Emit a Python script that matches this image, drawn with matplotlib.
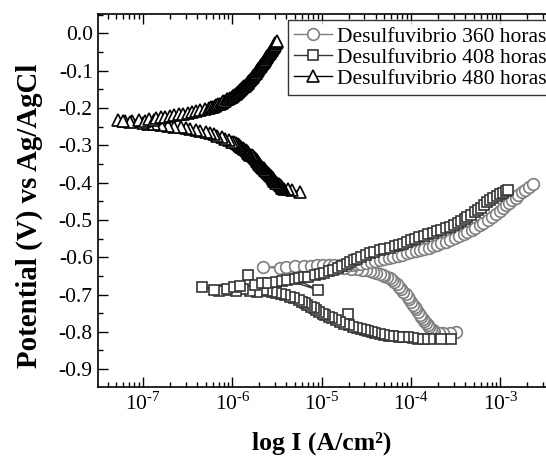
import numpy as np
import matplotlib
matplotlib.use("Agg")
import matplotlib.pyplot as plt
from matplotlib.ticker import MultipleLocator, LogLocator

plt.rcParams['font.family'] = ['Liberation Serif', 'DejaVu Serif']
plt.rcParams['mathtext.fontset'] = 'custom'
plt.rcParams['mathtext.rm'] = 'Liberation Serif'
plt.rcParams['axes.unicode_minus'] = False

# Desulfuvibrio 360 horas: potential (V) and log10 of current density (A/cm2)
e_360 = [-0.800, -0.802, -0.804, -0.803, -0.800, -0.796, -0.792, -0.787, -0.782, -0.776,
         -0.771, -0.765, -0.760, -0.754, -0.747, -0.740, -0.733, -0.727, -0.720, -0.713,
         -0.706, -0.699, -0.692, -0.685, -0.679, -0.673, -0.667, -0.662, -0.657, -0.653,
         -0.650, -0.647, -0.644, -0.641, -0.639, -0.637, -0.635, -0.633, -0.632, -0.631,
         -0.630, -0.629, -0.628, -0.627, -0.626, -0.628, -0.630, -0.631, -0.630, -0.630,
         -0.626,
         -0.625, -0.624, -0.623, -0.623, -0.622, -0.621, -0.621, -0.621, -0.621, -0.621,
         -0.620, -0.620, -0.618, -0.617, -0.615, -0.612, -0.610, -0.607, -0.605, -0.602,
         -0.599, -0.596, -0.593, -0.590, -0.587, -0.584, -0.581, -0.577, -0.574, -0.570,
         -0.566, -0.562, -0.558, -0.553, -0.548, -0.543, -0.538, -0.533, -0.527, -0.521,
         -0.514, -0.507, -0.500, -0.492, -0.484, -0.476, -0.468, -0.461, -0.454, -0.447,
         -0.440, -0.433, -0.426, -0.419, -0.411, -0.403]
logi_360 = [-3.50, -3.57, -3.64, -3.69, -3.74, -3.76, -3.78, -3.80, -3.81, -3.83,
            -3.85, -3.87, -3.89, -3.90, -3.92, -3.94, -3.96, -3.98, -4.00, -4.02,
            -4.04, -4.06, -4.09, -4.11, -4.13, -4.16, -4.19, -4.21, -4.24, -4.27,
            -4.30, -4.32, -4.35, -4.39, -4.43, -4.46, -4.50, -4.55, -4.60, -4.67,
            -4.75, -4.82, -4.90, -4.97, -5.05, -5.11, -5.17, -5.28, -5.38, -5.47,
            -5.66,
            -5.40, -5.30, -5.20, -5.12, -5.05, -4.99, -4.92, -4.86, -4.80, -4.74,
            -4.69, -4.65, -4.60, -4.56, -4.50, -4.45, -4.40, -4.35, -4.30, -4.25,
            -4.20, -4.15, -4.10, -4.05, -4.00, -3.95, -3.90, -3.85, -3.80, -3.76,
            -3.71, -3.66, -3.61, -3.56, -3.51, -3.46, -3.41, -3.37, -3.32, -3.28,
            -3.23, -3.19, -3.14, -3.10, -3.05, -3.01, -2.97, -2.94, -2.90, -2.87,
            -2.83, -2.80, -2.76, -2.72, -2.68, -2.64]

# Desulfuvibrio 408 horas
e_408 = [-0.820, -0.819, -0.820, -0.818, -0.818, -0.816, -0.815, -0.815, -0.813, -0.812,
         -0.810, -0.808, -0.806, -0.804, -0.801, -0.798, -0.795, -0.792, -0.789, -0.786,
         -0.751, -0.782, -0.778, -0.773, -0.769, -0.764, -0.760, -0.755, -0.751, -0.746,
         -0.742, -0.737, -0.733, -0.728, -0.724, -0.719, -0.715, -0.710, -0.706, -0.702,
         -0.698, -0.695, -0.692, -0.690, -0.688, -0.692, -0.690, -0.686, -0.690, -0.688,
         -0.690, -0.688, -0.679,
         -0.684, -0.680, -0.677, -0.648, -0.674, -0.670, -0.668, -0.666, -0.663, -0.661,
         -0.688, -0.658, -0.656, -0.654, -0.652, -0.649, -0.645, -0.642, -0.638, -0.633,
         -0.628, -0.623, -0.618, -0.613, -0.608, -0.604, -0.599, -0.595, -0.590, -0.586,
         -0.581, -0.578, -0.575, -0.571, -0.568, -0.564, -0.560, -0.555, -0.550, -0.546,
         -0.542, -0.538, -0.535, -0.531, -0.527, -0.523, -0.518, -0.513, -0.508, -0.502,
         -0.497, -0.492, -0.486, -0.480, -0.474, -0.467, -0.460, -0.453, -0.447, -0.441,
         -0.436, -0.431, -0.427, -0.423, -0.420]
logi_408 = [-3.55, -3.67, -3.79, -3.86, -3.92, -3.98, -4.03, -4.08, -4.14, -4.20,
            -4.25, -4.30, -4.35, -4.40, -4.44, -4.48, -4.52, -4.56, -4.61, -4.65,
            -4.71, -4.70, -4.75, -4.80, -4.84, -4.88, -4.92, -4.96, -4.99, -5.03,
            -5.06, -5.09, -5.12, -5.16, -5.19, -5.22, -5.25, -5.31, -5.36, -5.41,
            -5.46, -5.51, -5.56, -5.61, -5.66, -5.73, -5.80, -5.88, -5.96, -6.08,
            -6.15, -6.21, -6.34,
            -6.06, -5.98, -5.92, -5.82, -5.75, -5.67, -5.60, -5.51, -5.45, -5.39,
            -5.04, -5.30, -5.25, -5.20, -5.15, -5.08, -5.02, -4.97, -4.92, -4.87,
            -4.82, -4.77, -4.72, -4.68, -4.64, -4.60, -4.56, -4.51, -4.46, -4.41,
            -4.35, -4.30, -4.24, -4.18, -4.13, -4.09, -4.05, -4.00, -3.96, -3.91,
            -3.86, -3.81, -3.76, -3.71, -3.66, -3.61, -3.57, -3.52, -3.48, -3.44,
            -3.40, -3.37, -3.33, -3.29, -3.25, -3.22, -3.18, -3.15, -3.12, -3.08,
            -3.04, -3.00, -2.97, -2.94, -2.92]

# Desulfuvibrio 480 horas
e_480 = [-0.425, -0.420, -0.417, -0.416, -0.414, -0.412, -0.410, -0.407, -0.405, -0.402,
         -0.400, -0.397, -0.395, -0.392, -0.390, -0.387, -0.385, -0.382, -0.380, -0.377,
         -0.375, -0.372, -0.370, -0.367, -0.365, -0.362, -0.360, -0.357, -0.355, -0.352,
         -0.350, -0.347, -0.345, -0.342, -0.340, -0.337, -0.335, -0.332, -0.330, -0.327,
         -0.325, -0.322, -0.320, -0.317, -0.315, -0.312, -0.310, -0.307, -0.305, -0.302,
         -0.300, -0.297, -0.295, -0.292, -0.290, -0.286, -0.282, -0.278, -0.275, -0.271,
         -0.268, -0.265, -0.262, -0.259, -0.257, -0.254, -0.252, -0.250, -0.248, -0.246,
         -0.244, -0.242, -0.240,
         -0.236, -0.234, -0.232, -0.238, -0.235, -0.231, -0.236, -0.229, -0.233,
         -0.227, -0.225, -0.223, -0.221, -0.219, -0.217, -0.215, -0.213, -0.211, -0.209,
         -0.206, -0.203, -0.200, -0.198, -0.196, -0.194, -0.192, -0.190, -0.188, -0.186,
         -0.184, -0.182, -0.180, -0.177, -0.175, -0.172, -0.170, -0.167, -0.165, -0.162,
         -0.160, -0.157, -0.155, -0.152, -0.150, -0.147, -0.145, -0.142, -0.140, -0.137,
         -0.135, -0.132, -0.130, -0.127, -0.125, -0.122, -0.120, -0.117, -0.115, -0.112,
         -0.110, -0.107, -0.105, -0.102, -0.100, -0.097, -0.095, -0.092, -0.090, -0.087,
         -0.085, -0.082, -0.080, -0.077, -0.075, -0.072, -0.070, -0.067, -0.065, -0.062,
         -0.060, -0.057, -0.055, -0.052, -0.050, -0.047, -0.045, -0.042, -0.040, -0.037,
         -0.035, -0.032, -0.030, -0.027, -0.025, -0.022, -0.020]
logi_480 = [-5.24, -5.33, -5.38, -5.42, -5.44, -5.45, -5.46, -5.47, -5.48, -5.50,
            -5.51, -5.52, -5.53, -5.54, -5.55, -5.55, -5.56, -5.57, -5.58, -5.59,
            -5.60, -5.61, -5.62, -5.63, -5.64, -5.65, -5.66, -5.67, -5.68, -5.69,
            -5.70, -5.70, -5.71, -5.72, -5.73, -5.74, -5.75, -5.76, -5.77, -5.78,
            -5.80, -5.81, -5.82, -5.83, -5.84, -5.85, -5.87, -5.88, -5.90, -5.91,
            -5.93, -5.94, -5.96, -5.98, -6.00, -6.04, -6.08, -6.12, -6.17, -6.21,
            -6.25, -6.30, -6.36, -6.41, -6.47, -6.52, -6.58, -6.65, -6.72, -6.80,
            -6.88, -6.94, -7.00,
            -7.20, -7.12, -7.28, -7.15, -7.22, -7.05, -6.98, -6.93, -6.88,
            -6.85, -6.80, -6.75, -6.70, -6.65, -6.60, -6.55, -6.50, -6.45, -6.41,
            -6.36, -6.31, -6.26, -6.24, -6.22, -6.20, -6.18, -6.16, -6.14, -6.12,
            -6.11, -6.10, -6.08, -6.06, -6.05, -6.03, -6.01, -5.99, -5.98, -5.96,
            -5.95, -5.94, -5.93, -5.91, -5.90, -5.89, -5.88, -5.87, -5.86, -5.85,
            -5.84, -5.83, -5.82, -5.81, -5.80, -5.79, -5.78, -5.77, -5.77, -5.76,
            -5.75, -5.74, -5.74, -5.73, -5.72, -5.71, -5.71, -5.70, -5.69, -5.68,
            -5.68, -5.67, -5.66, -5.65, -5.65, -5.64, -5.63, -5.62, -5.62, -5.61,
            -5.61, -5.60, -5.59, -5.58, -5.58, -5.57, -5.56, -5.56, -5.55, -5.54,
            -5.54, -5.53, -5.52, -5.52, -5.51, -5.50, -5.50]

fig = plt.figure(figsize=(5.46, 4.58), dpi=100)
ax = fig.add_axes([0.1786, 0.155, 0.8214, 0.8144])

ax.plot(10 ** np.array(logi_360), e_360, color='#7f7f7f', lw=1.0, marker='o',
        ms=8.4, mfc='white', mec='#7f7f7f', mew=1.2, label='Desulfuvibrio 360 horas')
ax.plot(10 ** np.array(logi_408), e_408, color='#353535', lw=1.0, marker='s',
        ms=7.2, mfc='white', mec='#353535', mew=1.2, label='Desulfuvibrio 408 horas')
ax.plot(10 ** np.array(logi_480), e_480, color='black', lw=1.0, marker='^',
        ms=9.0, mfc='white', mec='black', mew=1.2, label='Desulfuvibrio 480 horas')

ax.set_xscale('log')
ax.set_xlim(10 ** -7.51, 10 ** -2.49)
ax.set_ylim(-0.948, 0.052)
ax.yaxis.set_major_locator(MultipleLocator(0.1))
ax.yaxis.set_minor_locator(MultipleLocator(0.05))
ax.yaxis.set_major_formatter(plt.FuncFormatter(lambda v, p: '%.1f' % v if abs(v) > 1e-9 else '0.0'))
ax.xaxis.set_major_locator(LogLocator(base=10, numticks=20))
ax.xaxis.set_minor_locator(LogLocator(base=10, subs=np.arange(2, 10), numticks=20))
ax.xaxis.set_major_formatter(plt.FuncFormatter(
    lambda v, p: r'$10^{\text{-%d}}$' % round(-np.log10(v)) if v < 1 else r'$10^{%d}$' % round(np.log10(v))))

ax.tick_params(which='both', direction='in', top=True, right=False, labelsize=15.5, width=1.0)
ax.tick_params(which='major', length=7)
ax.tick_params(which='minor', length=3.5)
ax.spines['right'].set_visible(False)
for s in ['left', 'top', 'bottom']:
    ax.spines[s].set_linewidth(1.2)

ax.set_xlabel('log I (A/cm²)', fontsize=18.5, fontweight='bold', labelpad=12)
ax.set_ylabel('Potential (V) vs Ag/AgCl', fontsize=20.8, fontweight='bold', labelpad=11)
ax.yaxis.label.set_y(0.46)

leg = ax.legend(loc='upper right', bbox_to_anchor=(1.013, 0.956), bbox_transform=fig.transFigure,
                fontsize=15.5, frameon=True, fancybox=False, borderpad=0.3, labelspacing=0.05,
                handlelength=1.75, handletextpad=0.25, borderaxespad=0.0)
leg.get_frame().set_edgecolor('black')
leg.get_frame().set_linewidth(1.0)

fig.savefig('out.png', dpi=100)
